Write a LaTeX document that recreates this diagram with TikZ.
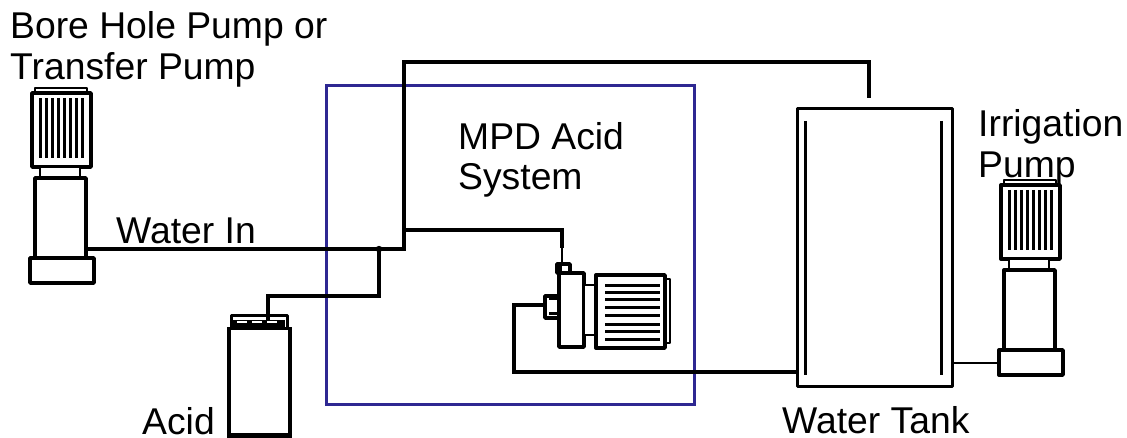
\documentclass[tikz,border=0pt]{standalone}
\usepackage{fontspec}
\setmainfont{Liberation Sans}
\definecolor{boxblue}{RGB}{46,40,146}
\tikzset{
  x=1pt,y=-1pt,
  heavy/.style={draw=black,line width=3.4pt,line join=round,fill=white},
  pipe/.style={draw=black,line width=4pt,line join=miter},
  thinpipe/.style={draw=black,line width=2.4pt},
  fin/.style={draw=black,line width=3pt},
  label/.style={font=\fontsize{37.3}{42}\selectfont,inner sep=0pt,anchor=base west},
}
\newcommand{\vpump}[1]{%
\begin{scope}[shift={(#1)}]
  \draw[heavy,line width=2.6pt] (3,-5) rectangle (55,0);
  \draw[heavy] (0,0) rectangle (59,74);
  \foreach \k in {0,...,7} \draw[fin] (8+\k*6.1,5) -- (8+\k*6.1,65);
  \draw[heavy,line width=2.6pt] (8,74) rectangle (48,85);
  \draw[heavy] (3,85) rectangle (54,165);
  \draw[heavy] (-2,165) rectangle (62,190);
\end{scope}}
\begin{document}
\begin{tikzpicture}
\useasboundingbox (0,0) rectangle (1127,438);
\fill[white] (0,0) rectangle (1127,438);
\node[draw=boxblue,line width=3pt,minimum width=368pt,minimum height=319pt,inner sep=0pt,anchor=north west] (sys) at (325,84) {};
\node[heavy,minimum width=155pt,minimum height=278pt,inner sep=0pt,anchor=north west] (tank) at (796,107) {};
\draw[fin] (805,121) -- (805,375) (941,121) -- (941,375);
\vpump{32,93}
\vpump{1001,185}
\coordinate (pl) at (86,249);
\coordinate (tee) at (404,249);
\coordinate (acidtee) at (379,249);
\coordinate (tanktop) at (869,98);
\coordinate (dose) at (404,230);
\coordinate (rp) at (953,363);
\coordinate (rq) at (999,363);
\draw[pipe] (pl) -- (tee) -- (404,62) -| (tanktop);
\draw[draw=black,line width=3.4pt] (dose) -| (562,248);
\draw[thinpipe] (562,246) -- (562,265);
\draw[thinpipe] (rp) -- (rq);
\draw[pipe] (acidtee) -- (379,296) -| (268,316);
\fill (acidtee) circle (3.2pt);
% acid drum
\draw[heavy,line width=3pt] (231,327) -- (231,316) -- (287,316) -- (287,327);
\fill[black] (233,320) rectangle (285,328);
\foreach \cx in {242,257,272} \draw[white,line width=1.6pt] (\cx-5,322) -- (\cx+5,322);
\draw[pipe] (268,296) -- (268,320);
\draw[draw=black,line width=4.5pt] (229,438) -- (229,328);
\draw[draw=black,line width=4.5pt] (290,328) -- (290,438);
\draw[draw=black,line width=3pt] (227,328.5) -- (292,328.5);
\fill (231,433) rectangle (288,438);
% dosing pump
\draw[heavy] (545,296) rectangle (559,318);
\draw[fin] (549,299) -- (559,299) (549,314) -- (559,314);
\draw[heavy] (559,273) rectangle (584,347);
\draw[heavy,line width=3.4pt,fill=white] (557,264) rectangle (570,273);
\fill (556,263) rectangle (562,274);
\draw[heavy,line width=2.6pt] (584,285) rectangle (596,335);
\draw[heavy,line width=2.6pt] (665,279) rectangle (670,343);
\draw[heavy] (596,275) rectangle (665,348);
\foreach \fy in {286,293,300,308,316,324,331,339} \draw[fin] (605,\fy) -- (660,\fy);
\draw[pipe] (545,305) -- (514,305) -- (514,372) -- (796,372);
\node[label] (t1) at (10,39) {Bore Hole Pump or};
\node[label] (t2) at (10,80) {Transfer Pump};
\node[label] (t3) at (116,244) {Water In};
\node[label] (t4) at (458,150) {MPD Acid};
\node[label] (t5) at (458,190) {System};
\node[label] (t6) at (978,137) {Irrigation};
\node[label] (t7) at (978,178) {Pump};
\node[label] (t8) at (142,434) {Acid};
\node[label] (t9) at (782,433) {Water Tank};
\end{tikzpicture}
\end{document}
